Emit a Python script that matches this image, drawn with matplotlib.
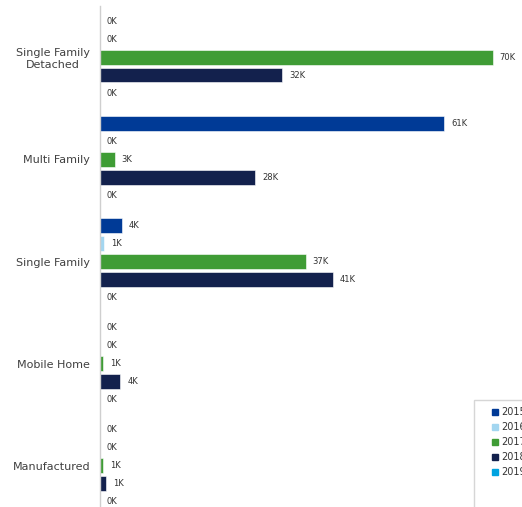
import matplotlib.pyplot as plt
from matplotlib.lines import Line2D
from matplotlib.patches import Rectangle

# Units by property type, in thousands
categories = ['Single Family\nDetached', 'Multi Family', 'Single Family', 'Mobile Home', 'Manufactured']
years = ['2015', '2016', '2017', '2018', '2019']
units_2015 = [0, 61.2, 3.9, 0, 0]
units_2016 = [0, 0, 0.66, 0, 0]
units_2017 = [69.9, 2.6, 36.6, 0.6, 0.6]
units_2018 = [32.4, 27.6, 41.4, 3.6, 1.1]
units_2019 = [0, 0, 0, 0, 0]

series = [units_2015, units_2016, units_2017, units_2018, units_2019]
colors = ['#003a96', '#a3d6f0', '#3f9c35', '#13214d', '#00a3e0']

W, H = 522, 507
fig = plt.figure(figsize=(W / 100, H / 100), dpi=100)
ax = fig.add_axes([100 / W, 1 - 517 / H, 421.5 / W, 511 / H])

step = 0.176
height = 0.145
for j, vals in enumerate(series):
    ys = [i + (j - 2) * step for i in range(len(categories))]
    ax.barh(ys, vals, height=height, color=colors[j], edgecolor='white', linewidth=0.4)
    for y, v in zip(ys, vals):
        ax.annotate(f'{v:.0f}K', (v, y), xytext=(5, 0), textcoords='offset points',
                    ha='left', va='center', fontsize=6, color='#333333')

ax.set_xlim(0, 75)
ax.set_ylim(len(categories) - 0.5, -0.5)
ax.set_yticks(range(len(categories)))
ax.set_yticklabels(categories, fontsize=8, color='#404040', ha='right', multialignment='center')
ax.tick_params(axis='y', length=0, pad=7)
ax.set_xticks([])
for side in ['top', 'right', 'bottom']:
    ax.spines[side].set_visible(False)
ax.spines['left'].set_color('#cfcfcf')
ax.spines['left'].set_linewidth(1)

# Legend, running off the lower right edge
handles = [Line2D([], [], linestyle='none', marker='s', markersize=4,
                  markerfacecolor=c, markeredgecolor=c) for c in colors]
fig.legend(handles, years, loc='upper left', bbox_to_anchor=(491 / W, 1 - 407 / H),
           frameon=False, fontsize=7, handlelength=0.8, handletextpad=0.25,
           labelspacing=0.52, borderaxespad=0, borderpad=0, labelcolor='#333333')
fig.add_artist(Rectangle((474 / W, -0.1), 0.2, 0.1 + (507 - 400) / H,
                         transform=fig.transFigure, fill=False,
                         edgecolor='#d6d6d6', linewidth=1))

fig.savefig('out.png', dpi=100)
